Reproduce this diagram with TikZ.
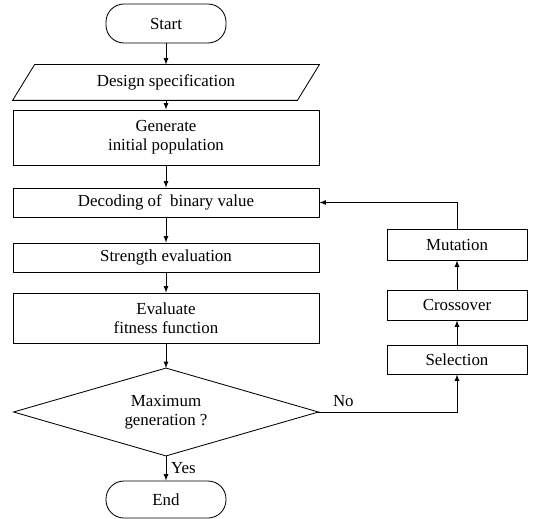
\documentclass[tikz,border=0pt]{standalone}
\usepackage{fontspec}
\setmainfont{Liberation Serif}
\usetikzlibrary{calc}

\begin{document}
\begin{tikzpicture}[x=0.025cm, y=-0.025cm, >=latex, line width=0.6pt,
  font=\fontsize{12}{13.5}\selectfont,
  box/.style={draw, rectangle, minimum width=306*0.025cm, align=center, inner sep=0pt},
  sidebox/.style={draw, rectangle, minimum width=140*0.025cm, inner sep=0pt},
  term/.style={draw, rectangle, rounded corners=0.45cm, minimum width=120*0.025cm, inner sep=0pt}]
  \useasboundingbox (0,0) rectangle (533,519);
  % main column
  \node[term, minimum height=39*0.025cm] (start) at (166,23.5) {Start};
  \node[minimum width=284*0.025cm, minimum height=35*0.025cm, inner sep=0pt] (spec) at (166,82.5) {Design specification};
  \draw ($(spec.north west)+(11,0)$) -- ($(spec.north east)+(11,0)$) -- ($(spec.south east)+(-11,0)$) -- ($(spec.south west)+(-11,0)$) -- cycle;
  \node[box, minimum height=55*0.025cm] (gen) at (166,137.5) {Generate\\initial population};
  \node[box, minimum height=29*0.025cm] (dec) at (166,202.5) {Decoding of\ \ binary value};
  \node[box, minimum height=29*0.025cm] (str) at (166,257.5) {Strength evaluation};
  \node[box, minimum height=50*0.025cm] (fit) at (166,318) {Evaluate\\fitness function};
  \node[minimum width=304*0.025cm, minimum height=87*0.025cm, inner sep=0pt, align=center] (maxgen) at (166,412) {Maximum\\generation ?};
  \draw (maxgen.north) -- (maxgen.east) -- (maxgen.south) -- (maxgen.west) -- cycle;
  \node[term, minimum height=37*0.025cm] (end) at (166,499.5) {End};
  % GA operators
  \node[sidebox, minimum height=31*0.025cm] (mut) at (457,244.5) {Mutation};
  \node[sidebox, minimum height=30*0.025cm] (cross) at (457,305) {Crossover};
  \node[sidebox, minimum height=29*0.025cm] (sel) at (457,359.5) {Selection};

  \draw[->] (start) -- (spec);
  \draw[->] (spec) -- (gen);
  \draw[->] (gen) -- (dec);
  \draw[->] (dec) -- (str);
  \draw[->] (str) -- (fit);
  \draw[->] (fit) -- (maxgen);
  \draw[->] (maxgen) -- node[right] {Yes} (end);
  \draw[->] (maxgen.east) -| node[pos=0.09, above] {No} (sel.south);
  \draw[->] (sel) -- (cross);
  \draw[->] (cross) -- (mut);
  \draw[->] (mut.north) |- (dec.east);
\end{tikzpicture}
\end{document}
